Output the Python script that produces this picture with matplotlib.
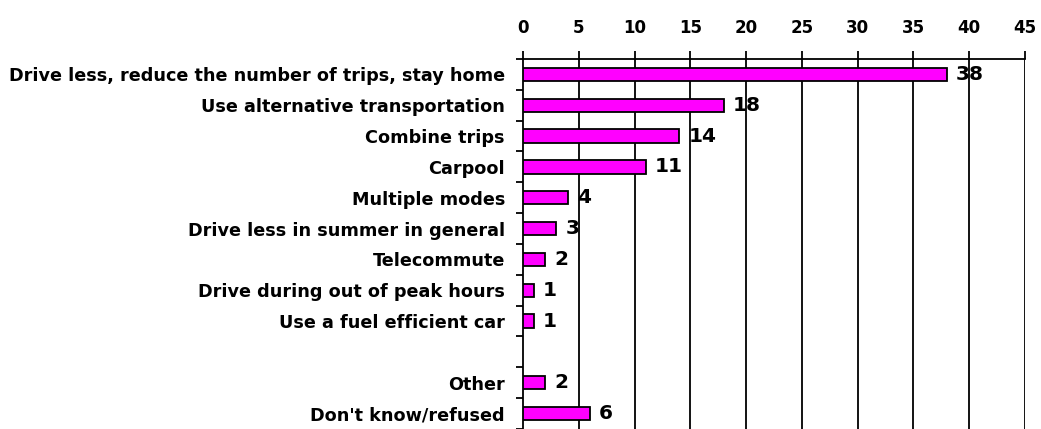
import numpy as np
import matplotlib
matplotlib.use("Agg")
import matplotlib.pyplot as plt

plt.rcParams['font.family'] = ['DejaVu Sans']
plt.rcParams['font.weight'] = 'bold'

# categories (empty string = blank slot between groups)
labels = ["Drive less, reduce the number of trips, stay home",
          "Use alternative transportation",
          "Combine trips",
          "Carpool",
          "Multiple modes",
          "Drive less in summer in general",
          "Telecommute",
          "Drive during out of peak hours",
          "Use a fuel efficient car",
          "",
          "Other",
          "Don't know/refused"]
values = [38, 18, 14, 11, 4, 3, 2, 1, 1, np.nan, 2, 6]
xticks = [0, 5, 10, 15, 20, 25, 30, 35, 40, 45]

fig = plt.figure(figsize=(10.41, 4.29), dpi=100)
ax = fig.add_axes([0.5024, 0.0, 0.9846 - 0.5024, 0.8625])

pos = np.arange(len(labels))
for p, v in zip(pos, values):
    if np.isnan(v):
        continue
    ax.barh(p, v, height=0.43, color='#ff00ff', edgecolor='black', linewidth=1.3, zorder=3)
    ax.annotate(str(int(v)), (v, p), xytext=(6.5, 0), textcoords='offset points',
                va='center', ha='left', fontsize=14.5, fontweight='bold', zorder=4)

ax.set_xlim(0, 45)
ax.set_ylim(len(labels) - 0.72, -0.5)

# gridlines at each x tick
for t in xticks[1:]:
    ax.axvline(t, color='black', linewidth=1.3, zorder=2)

ax.xaxis.tick_top()
ax.set_xticks(xticks)
ax.tick_params(axis='x', direction='out', length=5.5, width=1.3, pad=10, labelsize=12)

ax.set_yticks(pos)
ax.set_yticklabels(labels, fontsize=12.7, fontweight='bold')
ax.set_yticks(np.arange(-0.5, len(labels), 1.0), minor=True)
ax.tick_params(axis='y', which='major', length=0, pad=13)
ax.tick_params(axis='y', which='minor', direction='out', length=5, width=1.3)

for s in ['bottom', 'right']:
    ax.spines[s].set_visible(False)
for s in ['top', 'left']:
    ax.spines[s].set_linewidth(1.3)

fig.savefig("out.png", dpi=100)
